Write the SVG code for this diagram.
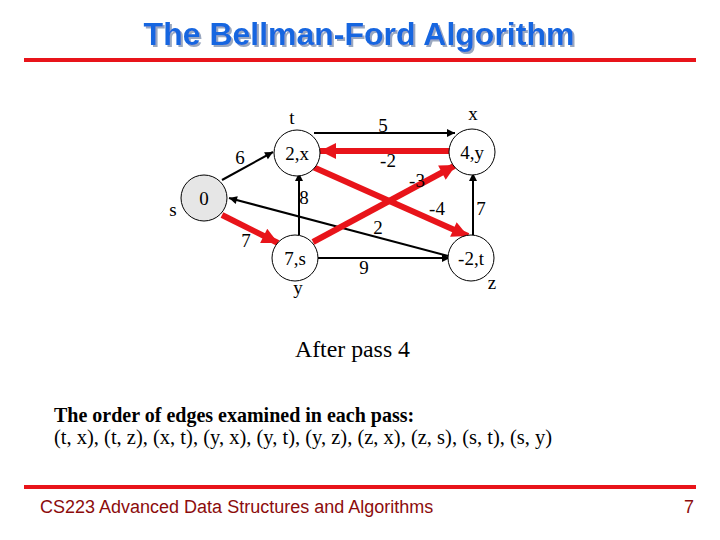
<svg xmlns="http://www.w3.org/2000/svg" width="720" height="540" viewBox="0 0 720 540">
<defs>
<style>
.title{font-family:"Liberation Sans",Arial,sans-serif;font-weight:bold;font-size:32px;text-anchor:middle}
.foot{font-family:"Liberation Sans",Arial,sans-serif;font-size:18px;fill:#8c0c0c}
.t{font-family:"Liberation Serif","Times New Roman",serif;font-size:19px;fill:#000}
.m{text-anchor:middle}
.node{fill:#fff;stroke:#000;stroke-width:1}
.blk{stroke:#000;stroke-width:2;fill:none}
.red{stroke:#e8141a;stroke-width:6;fill:none}
</style>
<filter id="sh" x="-5%" y="-20%" width="110%" height="140%"><feDropShadow dx="2" dy="2" stdDeviation="0.5" flood-color="#9aa8c0" flood-opacity="1"/></filter>
<marker id="ab" viewBox="0 0 10 10" refX="10" refY="5" markerWidth="10" markerHeight="8" markerUnits="userSpaceOnUse" orient="auto"><path d="M0,0 L10,5 L0,10 z" fill="#000"/></marker>
<marker id="ar" viewBox="0 0 10 10" refX="10" refY="5" markerWidth="18" markerHeight="16" markerUnits="userSpaceOnUse" orient="auto"><path d="M0,0 L10,5 L0,10 z" fill="#e8141a"/></marker>
</defs>
<rect width="720" height="540" fill="#fff"/>
<text class="title" x="359" y="45" fill="#1766e0" filter="url(#sh)">The Bellman-Ford Algorithm</text>
<rect x="24" y="58" width="672" height="4" fill="#e8141a"/>
<g id="connectors">
<line class="blk" x1="222" y1="180" x2="273" y2="152" marker-end="url(#ab)"/>
<line class="red" x1="222" y1="215" x2="278" y2="243" marker-end="url(#ar)"/>
<line class="blk" x1="452" y1="257" x2="229" y2="198" marker-end="url(#ab)"/>
<line class="blk" x1="299" y1="235" x2="299" y2="173" marker-end="url(#ab)"/>
<line class="red" x1="313" y1="242" x2="456" y2="165" marker-end="url(#ar)"/>
<line class="red" x1="313" y1="167" x2="468" y2="236" marker-end="url(#ar)"/>
<line class="red" x1="449" y1="151" x2="320" y2="151" marker-end="url(#ar)"/>
<line class="blk" x1="314" y1="133" x2="455" y2="133" marker-end="url(#ab)"/>
<line class="blk" x1="473" y1="235" x2="473" y2="173" marker-end="url(#ab)"/>
<line class="blk" x1="318" y1="258" x2="450" y2="258" marker-end="url(#ab)"/>
</g>
<g id="node-s"><circle class="node" cx="204" cy="198" r="23" style="fill:#e6e6e6"/><text class="t m" x="204" y="205">0</text><text class="t m" x="173" y="216">s</text></g>
<g id="node-t"><circle class="node" cx="297" cy="153" r="23"/><text class="t m" x="297" y="160">2,x</text><text class="t m" x="292" y="124">t</text></g>
<g id="node-y"><circle class="node" cx="295" cy="258" r="23"/><text class="t m" x="295" y="265">7,s</text><text class="t m" x="298" y="294">y</text></g>
<g id="node-x"><circle class="node" cx="472" cy="152" r="23"/><text class="t m" x="472" y="159">4,y</text><text class="t m" x="473" y="120">x</text></g>
<g id="node-z"><circle class="node" cx="471" cy="258" r="23"/><text class="t m" x="471" y="265">-2,t</text><text class="t m" x="492" y="289">z</text></g>
<g id="labels">
<text class="t m" x="240" y="164">6</text>
<text class="t m" x="246" y="247">7</text>
<text class="t m" x="304" y="204">8</text>
<text class="t m" x="383" y="132">5</text>
<text class="t m" x="388" y="167">-2</text>
<text class="t m" x="417" y="187">-3</text>
<text class="t m" x="437" y="215">-4</text>
<text class="t m" x="378" y="234">2</text>
<text class="t m" x="364" y="274">9</text>
<text class="t m" x="481" y="215">7</text>
</g>
<text class="t" x="295" y="357" style="font-size:23.8px">After pass 4</text>
<text class="t" x="54" y="422" style="font-weight:bold;font-size:20px">The order of edges examined in each pass:</text>
<text class="t" x="54" y="444" style="font-size:20.5px">(t, x), (t, z), (x, t), (y, x), (y, t), (y, z), (z, x), (z, s), (s, t), (s, y)</text>
<rect x="24" y="485" width="672" height="4" fill="#e8141a"/>
<text class="foot" x="40" y="513">CS223 Advanced Data Structures and Algorithms</text>
<text class="foot" x="694" y="513" text-anchor="end">7</text>
</svg>
